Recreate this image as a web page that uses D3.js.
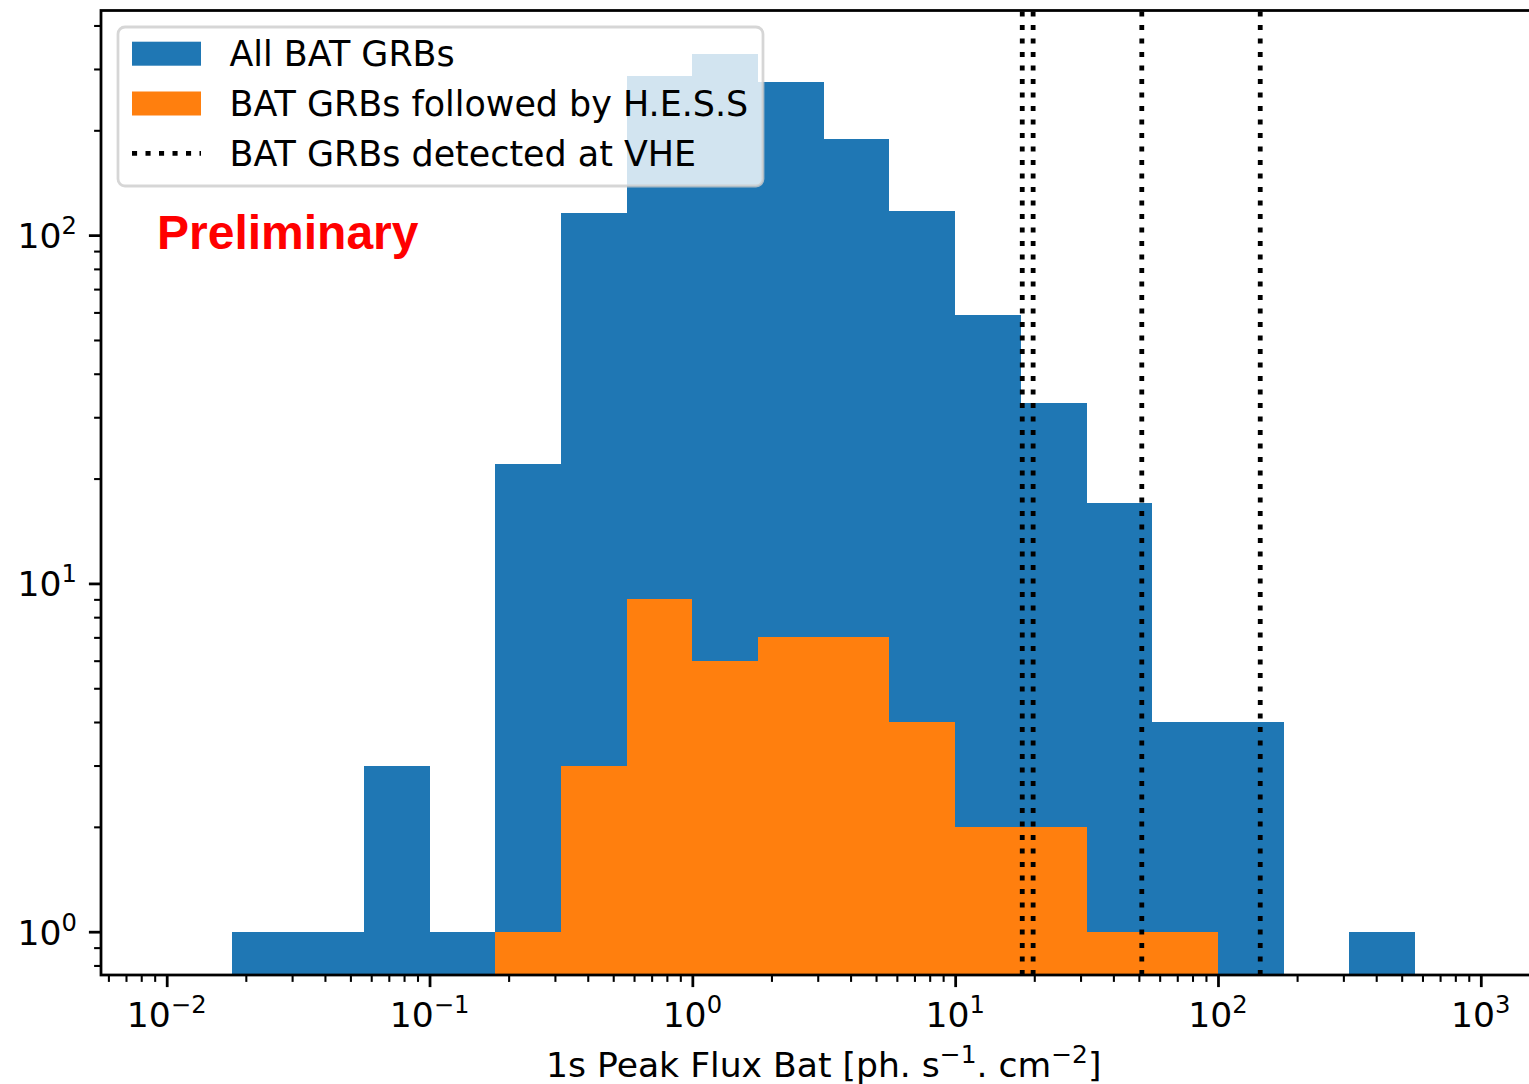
<!DOCTYPE html>
<html>
<head>
<meta charset="utf-8">
<script src="https://cdn.jsdelivr.net/npm/d3@7"></script>
<style>
  body { margin: 0; background: #fff; }
  svg { display: block; }
  text { font-family: "DejaVu Sans", sans-serif; }
</style>
</head>
<body>
<svg id="chart" width="1529" height="1084"></svg>
<script>
// histogram bin edges (log spaced, 4 per decade)
var binEdges = [0.017783, 0.031623, 0.056234, 0.1, 0.177828, 0.316228, 0.562341, 1,
                1.778279, 3.162278, 5.623413, 10, 17.78279, 31.62278, 56.23413, 100,
                177.8279, 316.2278, 562.3413];
var allCounts  = [1, 1, 3, 1, 22, 116, 286, 331, 275, 189, 117, 59, 33, 17, 4, 4, 0, 1];
var hessCounts = [0, 0, 0, 0, 1, 3, 9, 6, 7, 7, 4, 2, 2, 1, 1, 0, 0, 0];
var vheFlux = [18.0, 19.8, 51.3, 144.8];
var xMajor = [-2, -1, 0, 1, 2, 3];
var yMajor = [0, 1, 2];
var legendLabels = ["All BAT GRBs", "BAT GRBs followed by H.E.S.S", "BAT GRBs detected at VHE"];

var blue = "#1f77b4", orange = "#ff7f0e";
var pLeft = 101, pRight = 1546.5, pTop = 10.5, pBottom = 975;
var fs = 34.6;

var svg = d3.select("#chart");

var x = d3.scaleLog().domain([Math.pow(10, -2.25), Math.pow(10, 3.25)]).range([pLeft, pRight]);
var y = d3.scaleLog().domain([0.751, 441.6]).range([pBottom, pTop]);

svg.append("clipPath").attr("id", "plot-clip")
    .append("rect")
    .attr("x", pLeft).attr("y", pTop)
    .attr("width", pRight - pLeft).attr("height", pBottom - pTop);

var plot = svg.append("g").attr("clip-path", "url(#plot-clip)");

function bins(counts) {
    return counts.map(function(c, i) {
        return {x0: binEdges[i], x1: binEdges[i + 1], n: c};
    }).filter(function(d) { return d.n > 0; });
}

function drawBars(counts, color) {
    plot.append("g").selectAll("rect")
        .data(bins(counts))
        .enter().append("rect")
        .attr("x", d => x(d.x0))
        .attr("width", d => x(d.x1) - x(d.x0))
        .attr("y", d => y(d.n))
        .attr("height", d => pBottom + 5 - y(d.n))
        .attr("fill", color)
        .attr("shape-rendering", "crispEdges");
}

drawBars(allCounts, blue);
drawBars(hessCounts, orange);

// VHE detections, drawn bottom to top so the dots start at the axis
plot.append("g").selectAll("line")
    .data(vheFlux)
    .enter().append("line")
    .attr("x1", d => x(d)).attr("x2", d => x(d))
    .attr("y1", pBottom).attr("y2", pTop)
    .attr("stroke", "#000")
    .attr("stroke-width", 4.8)
    .attr("stroke-dasharray", "5.1 8.4");

// minor tick values
var xMinor = [], yMinor = [];
for (var e = -3; e <= 3; e++) {
    for (var m = 2; m <= 9; m++) {
        var v = m * Math.pow(10, e);
        if (v > x.domain()[0] && v < x.domain()[1]) xMinor.push(v);
        if (v > y.domain()[0] && v < y.domain()[1]) yMinor.push(v);
    }
}

function tickLines(g) {
    g.select(".domain").remove();
    g.selectAll("line").attr("stroke", "#000");
}

svg.append("g")
    .attr("transform", `translate(0,${pBottom})`)
    .call(d3.axisBottom(x).tickValues(xMinor).tickSize(6.9).tickFormat(""))
    .call(tickLines)
    .selectAll("line").attr("stroke-width", 2.07);

var xAxis = svg.append("g")
    .attr("transform", `translate(0,${pBottom})`)
    .call(d3.axisBottom(x).tickValues(xMajor.map(p => Math.pow(10, p))).tickSize(12.1).tickFormat(""))
    .call(tickLines);
xAxis.selectAll("line").attr("stroke-width", 2.77);

svg.append("g")
    .attr("transform", `translate(${pLeft},0)`)
    .call(d3.axisLeft(y).tickValues(yMinor).tickSize(6.9).tickFormat(""))
    .call(tickLines)
    .selectAll("line").attr("stroke-width", 2.07);

var yAxis = svg.append("g")
    .attr("transform", `translate(${pLeft},0)`)
    .call(d3.axisLeft(y).tickValues(yMajor.map(p => Math.pow(10, p))).tickSize(12.1).tickFormat(""))
    .call(tickLines);
yAxis.selectAll("line").attr("stroke-width", 2.77);

// 10^n labels
function powLabel(sel, p) {
    sel.append("tspan").text("10");
    sel.append("tspan")
        .attr("font-size", fs * 0.7)
        .attr("dy", -14)
        .text(p < 0 ? "\u2212" + (-p) : String(p));
}

svg.append("g").selectAll("text")
    .data(xMajor)
    .enter().append("text")
    .attr("x", d => x(Math.pow(10, d)))
    .attr("y", 1027)
    .attr("text-anchor", "middle")
    .attr("font-size", fs)
    .each(function(d) { powLabel(d3.select(this), d); });

svg.append("g").selectAll("text")
    .data(yMajor)
    .enter().append("text")
    .attr("x", 77)
    .attr("y", d => y(Math.pow(10, d)) + 13)
    .attr("text-anchor", "end")
    .attr("font-size", fs)
    .each(function(d) { powLabel(d3.select(this), d); });

// spines
svg.append("rect")
    .attr("x", pLeft).attr("y", pTop)
    .attr("width", pRight - pLeft).attr("height", pBottom - pTop)
    .attr("fill", "none")
    .attr("stroke", "#000")
    .attr("stroke-width", 2.77)
    .attr("stroke-linejoin", "miter");

// x label
var xl = svg.append("text")
    .attr("x", (pLeft + pRight) / 2)
    .attr("y", 1077)
    .attr("text-anchor", "middle")
    .attr("font-size", fs);
xl.append("tspan").text("1s Peak Flux Bat [ph.");
xl.append("tspan").attr("dx", 11).text("s");
xl.append("tspan").attr("font-size", fs * 0.72).attr("dy", -14).text("\u22121");
xl.append("tspan").attr("dy", 14).text(".");
xl.append("tspan").attr("dx", 11).text("cm");
xl.append("tspan").attr("font-size", fs * 0.72).attr("dy", -14).text("\u22122");
xl.append("tspan").attr("dy", 14).text("]");

// legend
var legend = svg.append("g");
legend.append("rect")
    .attr("x", 118).attr("y", 27)
    .attr("width", 645).attr("height", 159)
    .attr("rx", 7)
    .attr("fill", "#fff").attr("fill-opacity", 0.8)
    .attr("stroke", "#cccccc").attr("stroke-opacity", 0.8)
    .attr("stroke-width", 2.77);

var rowY = [53.7, 103.5, 153.3];
legend.append("rect").attr("x", 132).attr("y", rowY[0] - 12).attr("width", 69).attr("height", 24).attr("fill", blue);
legend.append("rect").attr("x", 132).attr("y", rowY[1] - 12).attr("width", 69).attr("height", 24).attr("fill", orange);
legend.append("line")
    .attr("x1", 132).attr("x2", 201)
    .attr("y1", rowY[2]).attr("y2", rowY[2])
    .attr("stroke", "#000").attr("stroke-width", 4.8)
    .attr("stroke-dasharray", "5.1 8.4");

legend.selectAll("text.lab")
    .data(legendLabels)
    .enter().append("text")
    .attr("class", "lab")
    .attr("x", 229.5)
    .attr("y", (d, i) => rowY[i] + 12.6)
    .attr("font-size", 34.9)
    .text(d => d);

svg.append("text")
    .attr("x", 157)
    .attr("y", 249)
    .style("font-family", "'Liberation Sans', Arial, sans-serif")
    .style("font-weight", "bold")
    .attr("font-size", 48)
    .attr("fill", "#ff0000")
    .text("Preliminary");
</script>
</body>
</html>
